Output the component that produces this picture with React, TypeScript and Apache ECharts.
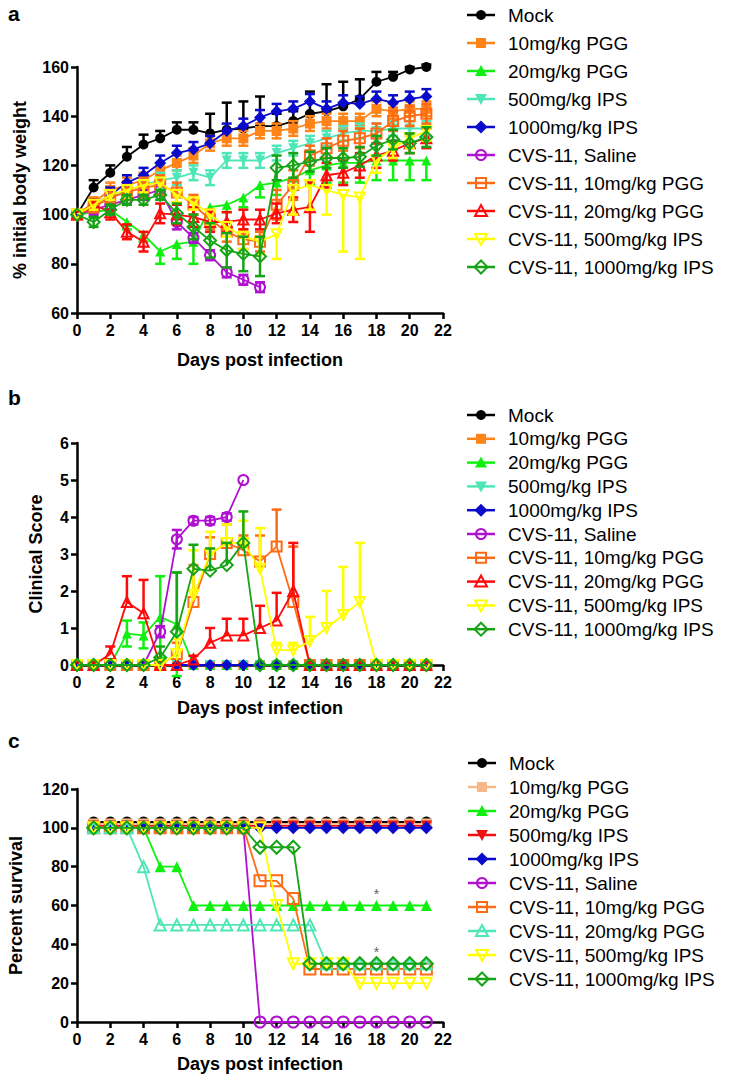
import React, { useEffect, useRef } from "react";
import * as echarts from "echarts";

const FONT = "'Liberation Sans', Arial, Helvetica, sans-serif";

// ---------- categories ----------
const daysAB = [0, 1, 2, 3, 4, 5, 6, 7, 8, 9, 10, 11, 12, 13, 14, 15, 16, 17, 18, 19, 20, 21];
const daysC = [1, 2, 3, 4, 5, 6, 7, 8, 9, 10, 11, 12, 13, 14, 15, 16, 17, 18, 19, 20, 21];

// ---------- panel a: % initial body weight ----------
const wMock = [100, 111, 117, 123.5, 128.5, 131, 134.5, 134.5, 133, 134.5, 135, 136, 136, 138, 141, 142, 144, 147, 154, 156, 159, 160];
const wMockErr = [0, 3, 3, 4, 4, 3, 3, 3, 8, 11, 11, 12, 5, 4, 9, 11, 10, 8, 4, 2, 1, 1];
const wPgg10 = [100, 105, 110, 112, 114, 118, 121, 124, 129, 131, 131, 134, 134, 135, 137, 138, 138, 138, 143, 142, 143, 143];
const wPgg10Err = [0, 2, 3, 3, 3, 3, 3, 3, 3, 3, 3, 3, 3, 3, 3, 3, 3, 3, 3, 3, 3, 3];
const wPgg20 = [100, 101, 102, 97, 92, 85, 88, 89, 103, 104, 107, 112, 113, 115, 118, 120, 121, 121, 122, 122, 122, 122];
const wPgg20Err = [0, 2, 2, 3, 3, 5, 6, 9, 4, 3, 4, 5, 5, 5, 6, 7, 8, 8, 8, 8, 8, 8];
const wIps500 = [100, 103, 107, 110, 112, 114, 115, 117, 115, 122, 122, 122, 125, 127, 129, 131, 133, 134, 134, 135, 135, 135];
const wIps500Err = [0, 2, 3, 3, 3, 3, 3, 3, 3, 3, 3, 3, 3, 3, 3, 3, 3, 3, 3, 3, 3, 3];
const wIps1000 = [100, 104, 108, 113, 116, 121, 125, 126.5, 129, 134, 136, 139.5, 142, 143, 146, 143, 145.5, 145, 147, 145.5, 147, 148];
const wIps1000Err = [0, 2, 3, 3, 3, 3, 3, 3, 3, 3, 3, 3, 3, 3, 3, 3, 3, 3, 3, 3, 3, 3];
const wSaline = [100, 102, 104, 106, 108, 110, 97, 90.5, 83.5, 76.5, 73.5, 70.5, null, null, null, null, null, null, null, null, null, null];
const wSalineErr = [0, 2, 2, 2, 2, 2, 3, 2, 2, 2, 2, 2, 0, 0, 0, 0, 0, 0, 0, 0, 0, 0];
const wCvsPgg10 = [100, 103, 107, 109, 111, 112, 109, 104, 98, 93, 90, 89, 104, 112, 124, 127, 130, 131, 133, 138, 140, 141];
const wCvsPgg10Err = [0, 2, 3, 3, 4, 4, 4, 4, 4, 4, 4, 4, 6, 6, 4, 4, 4, 4, 4, 4, 4, 4];
const wCvsPgg20 = [100, 104, 101, 93, 89, 100.5, 100, 99, 97, 97, 98, 98, 100.5, 102, 103, 116, 117, 120, 124, 126, 129, 131];
const wCvsPgg20Err = [0, 2, 3, 3, 4, 4, 4, 4, 4, 4, 4, 4, 4, 5, 10, 5, 5, 5, 5, 4, 4, 4];
const wCvsIps500 = [100, 104, 108, 110, 112, 113, 108, 105, 100, 95, 91, 89, 92, 110, 112, 110, 108, 107, 122, 127, 131, 134];
const wCvsIps500Err = [0, 2, 2, 3, 3, 3, 3, 3, 4, 4, 5, 5, 10, 10, 10, 10, 23, 25, 5, 4, 4, 4];
const wCvsIps1000 = [100, 97, 102, 106, 106, 108, 100.5, 95, 89.5, 85.5, 84, 83, 119, 120, 121.5, 123, 123, 123.5, 128, 130.5, 129, 131.5];
const wCvsIps1000Err = [0, 2, 2, 2, 2, 2, 4, 5, 7, 7, 7, 8, 5, 5, 4, 4, 4, 4, 4, 4, 4, 4];

// ---------- panel b: clinical score ----------
const cMock = [0, 0, 0, 0, 0, 0, 0, 0, 0, 0, 0, 0, 0, 0, 0, 0, 0, 0, 0, 0, 0, 0];
const cPgg10 = [0, 0, 0, 0, 0, 0, 0, 0, 0, 0, 0, 0, 0, 0, 0, 0, 0, 0, 0, 0, 0, 0];
const cPgg20 = [0, 0, 0, 0.85, 0.8, 1.3, 1.1, 0, 0, 0, 0, 0, 0, 0, 0, 0, 0, 0, 0, 0, 0, 0];
const cPgg20Err = [0, 0, 0, 0.35, 0.35, 1.1, 1.4, 0, 0, 0, 0, 0, 0, 0, 0, 0, 0, 0, 0, 0, 0, 0];
const cIps500 = [0, 0, 0, 0, 0, 0, 0, 0, 0, 0, 0, 0, 0, 0, 0, 0, 0, 0, 0, 0, 0, 0];
const cIps1000 = [0, 0, 0, 0, 0, 0, 0, 0, 0, 0, 0, 0, 0, 0, 0, 0, 0, 0, 0, 0, 0, 0];
const cSaline = [0, 0, 0, 0, 0, 0.9, 3.4, 3.9, 3.9, 4.0, 5.0, null, null, null, null, null, null, null, null, null, null, null];
const cSalineErr = [0, 0, 0, 0, 0, 0.15, 0.25, 0.1, 0.1, 0.1, 0, 0, 0, 0, 0, 0, 0, 0, 0, 0, 0, 0];
const cCvsPgg10 = [0, 0, 0, 0, 0, 0, 0.3, 1.7, 3.0, 3.3, 3.1, 2.8, 3.2, 1.7, 0, 0, 0, 0, 0, 0, 0, 0];
const cCvsPgg10Err = [0, 0, 0, 0, 0, 0, 0.3, 1.0, 0.45, 0.5, 0.4, 0.7, 1.0, 1.5, 0, 0, 0, 0, 0, 0, 0, 0];
const cCvsPgg20 = [0, 0, 0.3, 1.7, 1.4, 0, 0, 0.15, 0.6, 0.8, 0.8, 1.0, 1.2, 2.0, 0, 0, 0, 0, 0, 0, 0, 0];
const cCvsPgg20Err = [0, 0, 0.2, 0.7, 0.9, 0, 0, 0.1, 0.4, 0.45, 0.45, 0.6, 0.75, 1.3, 0, 0, 0, 0, 0, 0, 0, 0];
const cCvsIps500 = [0, 0, 0, 0, 0, 0, 0.3, 1.9, 3.0, 3.3, 3.3, 2.6, 0.4, 0.4, 0.65, 1.0, 1.35, 1.7, 0, 0, 0, 0];
const cCvsIps500Err = [0, 0, 0, 0, 0, 0, 0.4, 1.2, 0.6, 0.5, 0.6, 1.1, 0.2, 0.2, 0.65, 1.0, 1.3, 1.6, 0, 0, 0, 0];
const cCvsIps1000 = [0, 0, 0, 0, 0, 0.2, 0.9, 2.6, 2.55, 2.7, 3.3, 0, 0, 0, 0, 0, 0, 0, 0, 0, 0, 0];
const cCvsIps1000Err = [0, 0, 0, 0, 0, 0.3, 1.6, 0.65, 0.6, 0.6, 0.85, 0, 0, 0, 0, 0, 0, 0, 0, 0, 0, 0];

// ---------- panel c: percent survival ----------
const sMock = [103, 103, 103, 103, 103, 103, 103, 103, 103, 103, 103, 103, 103, 103, 103, 103, 103, 103, 103, 103, 103];
const sPgg10 = [102, 102, 102, 102, 102, 102, 102, 102, 102, 102, 102, 102, 102, 102, 102, 102, 102, 102, 102, 102, 102];
const sPgg20 = [100, 100, 100, 100, 80, 80, 60, 60, 60, 60, 60, 60, 60, 60, 60, 60, 60, 60, 60, 60, 60];
const sIps500 = [101, 101, 101, 101, 101, 101, 101, 101, 101, 101, 101, 101, 101, 101, 101, 101, 101, 101, 101, 101, 101];
const sIps1000 = [100, 100, 100, 100, 100, 100, 100, 100, 100, 100, 100, 100, 100, 100, 100, 100, 100, 100, 100, 100, 100];
const sSaline = [100, 100, 100, 100, 100, 100, 100, 100, 100, 100, 0, 0, 0, 0, 0, 0, 0, 0, 0, 0, 0];
const sCvsPgg10 = [100, 100, 100, 100, 100, 100, 100, 100, 100, 100, 72.7, 72.7, 63.6, 27.3, 27.3, 27.3, 27.3, 27.3, 27.3, 27.3, 27.3];
const sCvsPgg20 = [100, 100, 100, 80, 50, 50, 50, 50, 50, 50, 50, 50, 50, 50, 30, 30, 30, 30, 30, 30, 30];
const sCvsIps500 = [100, 100, 100, 100, 100, 100, 100, 100, 100, 100, 100, 60, 30, 30, 30, 30, 20, 20, 20, 20, 20];
const sCvsIps1000 = [100, 100, 100, 100, 100, 100, 100, 100, 100, 100, 90, 90, 90, 30, 30, 30, 30, 30, 30, 30, 30];
const starDays = [18, 18];
const starValues = [66, 36];

// ---------- styles ----------
const C = {
  black: "#000000",
  orange: "#FF8418",
  lime: "#10F010",
  aqua: "#4EE6B6",
  blue: "#0A0ACC",
  purple: "#B010D0",
  orangeRed: "#FF6A14",
  red: "#FF0A0A",
  yellow: "#FFFF00",
  green: "#16A416",
  tan: "#F5B888",
};

type Spec = {
  name: string;
  vals: (number | null)[];
  err?: number[];
  color: string;
  sym: "circle" | "square" | "up" | "down" | "diamond";
  open: boolean;
  dir?: "up" | "down" | "both";
};

const specsA: Spec[] = [
  { name: "Mock", vals: wMock, err: wMockErr, color: C.black, sym: "circle", open: false, dir: "up" },
  { name: "10mg/kg PGG", vals: wPgg10, err: wPgg10Err, color: C.orange, sym: "square", open: false, dir: "both" },
  { name: "20mg/kg PGG", vals: wPgg20, err: wPgg20Err, color: C.lime, sym: "up", open: false, dir: "down" },
  { name: "500mg/kg IPS", vals: wIps500, err: wIps500Err, color: C.aqua, sym: "down", open: false, dir: "both" },
  { name: "1000mg/kg IPS", vals: wIps1000, err: wIps1000Err, color: C.blue, sym: "diamond", open: false, dir: "up" },
  { name: "CVS-11, Saline", vals: wSaline, err: wSalineErr, color: C.purple, sym: "circle", open: true, dir: "both" },
  { name: "CVS-11, 10mg/kg PGG", vals: wCvsPgg10, err: wCvsPgg10Err, color: C.orangeRed, sym: "square", open: true, dir: "both" },
  { name: "CVS-11, 20mg/kg PGG", vals: wCvsPgg20, err: wCvsPgg20Err, color: C.red, sym: "up", open: true, dir: "both" },
  { name: "CVS-11, 500mg/kg IPS", vals: wCvsIps500, err: wCvsIps500Err, color: C.yellow, sym: "down", open: true, dir: "down" },
  { name: "CVS-11, 1000mg/kg IPS", vals: wCvsIps1000, err: wCvsIps1000Err, color: C.green, sym: "diamond", open: true, dir: "both" },
];

const specsB: Spec[] = [
  { name: "Mock", vals: cMock, color: C.black, sym: "circle", open: false },
  { name: "10mg/kg PGG", vals: cPgg10, color: C.orange, sym: "square", open: false },
  { name: "20mg/kg PGG", vals: cPgg20, err: cPgg20Err, color: C.lime, sym: "up", open: false, dir: "both" },
  { name: "500mg/kg IPS", vals: cIps500, color: C.aqua, sym: "down", open: false },
  { name: "1000mg/kg IPS", vals: cIps1000, color: C.blue, sym: "diamond", open: false },
  { name: "CVS-11, Saline", vals: cSaline, err: cSalineErr, color: C.purple, sym: "circle", open: true, dir: "both" },
  { name: "CVS-11, 10mg/kg PGG", vals: cCvsPgg10, err: cCvsPgg10Err, color: C.orangeRed, sym: "square", open: true, dir: "up" },
  { name: "CVS-11, 20mg/kg PGG", vals: cCvsPgg20, err: cCvsPgg20Err, color: C.red, sym: "up", open: true, dir: "up" },
  { name: "CVS-11, 500mg/kg IPS", vals: cCvsIps500, err: cCvsIps500Err, color: C.yellow, sym: "down", open: true, dir: "up" },
  { name: "CVS-11, 1000mg/kg IPS", vals: cCvsIps1000, err: cCvsIps1000Err, color: C.green, sym: "diamond", open: true, dir: "up" },
];

const specsC: Spec[] = [
  { name: "Mock", vals: sMock, color: C.black, sym: "circle", open: false },
  { name: "10mg/kg PGG", vals: sPgg10, color: C.tan, sym: "square", open: false },
  { name: "20mg/kg PGG", vals: sPgg20, color: C.lime, sym: "up", open: false },
  { name: "500mg/kg IPS", vals: sIps500, color: "#EE1111", sym: "down", open: false },
  { name: "1000mg/kg IPS", vals: sIps1000, color: C.blue, sym: "diamond", open: false },
  { name: "CVS-11, Saline", vals: sSaline, color: C.purple, sym: "circle", open: true },
  { name: "CVS-11, 10mg/kg PGG", vals: sCvsPgg10, color: C.orangeRed, sym: "square", open: true },
  { name: "CVS-11, 20mg/kg PGG", vals: sCvsPgg20, color: C.aqua, sym: "up", open: true },
  { name: "CVS-11, 500mg/kg IPS", vals: sCvsIps500, color: C.yellow, sym: "down", open: true },
  { name: "CVS-11, 1000mg/kg IPS", vals: sCvsIps1000, color: C.green, sym: "diamond", open: true },
];

function ecSym(s: Spec["sym"]) {
  if (s === "circle") return "circle";
  if (s === "square") return "rect";
  if (s === "diamond") return "diamond";
  return "triangle";
}

function buildSeries(specs: Spec[], days: number[], gi: number, symSize: number) {
  const out: any[] = [];
  specs.forEach((s, i) => {
    const z = 2 + i;
    if (s.err) {
      const d: number[][] = [];
      days.forEach((day, k) => {
        const v = s.vals[k];
        const e = s.err![k];
        if (v != null && e) d.push([day, v, e]);
      });
      const dir = s.dir || "both";
      out.push({
        type: "custom",
        name: s.name + " err",
        xAxisIndex: gi,
        yAxisIndex: gi,
        z,
        silent: true,
        clip: false,
        data: d,
        encode: { x: 0, y: 1 },
        renderItem: (_p: any, api: any) => {
          const x = api.value(0);
          const y = api.value(1);
          const e = api.value(2);
          const up = dir !== "down";
          const dn = dir !== "up";
          const pt = api.coord([x, up ? y + e : y]);
          const pb = api.coord([x, dn ? y - e : y]);
          const hw = 5;
          const st = { stroke: s.color, lineWidth: 2.5 };
          const ch: any[] = [
            { type: "line", shape: { x1: pt[0], y1: pt[1], x2: pb[0], y2: pb[1] }, style: st },
          ];
          if (up) ch.push({ type: "line", shape: { x1: pt[0] - hw, y1: pt[1], x2: pt[0] + hw, y2: pt[1] }, style: st });
          if (dn) ch.push({ type: "line", shape: { x1: pb[0] - hw, y1: pb[1], x2: pb[0] + hw, y2: pb[1] }, style: st });
          return { type: "group", children: ch };
        },
      });
    }
    out.push({
      type: "line",
      name: s.name,
      xAxisIndex: gi,
      yAxisIndex: gi,
      z,
      silent: true,
      data: days.map((d, k) => [d, s.vals[k]]),
      symbol: ecSym(s.sym),
      symbolRotate: s.sym === "down" ? 180 : 0,
      symbolSize: s.sym === "diamond" ? symSize + 2 : symSize,
      showSymbol: true,
      showAllSymbol: true,
      connectNulls: false,
      lineStyle: { color: s.color, width: 1.8 },
      itemStyle: s.open
        ? { color: "rgba(255,255,255,0)", borderColor: s.color, borderWidth: 2 }
        : { color: s.color, borderColor: s.color, borderWidth: 0 },
      emphasis: { disabled: true },
    });
  });
  return out;
}

function legend(specs: Spec[], y0: number, gap: number, x0: number) {
  const els: any[] = [];
  specs.forEach((s, i) => {
    const y = y0 + i * gap;
    const cx = x0 + 14;
    els.push({ type: "line", shape: { x1: x0, y1: y, x2: x0 + 28, y2: y }, style: { stroke: s.color, lineWidth: 2.5 }, z: 10 });
    const st = s.open
      ? { fill: "rgba(255,255,255,0)", stroke: s.color, lineWidth: 2 }
      : { fill: s.color, stroke: s.color, lineWidth: 0 };
    const r = 5;
    if (s.sym === "circle") els.push({ type: "circle", shape: { cx, cy: y, r }, style: st, z: 11 });
    else if (s.sym === "square") els.push({ type: "rect", shape: { x: cx - r, y: y - r, width: 2 * r, height: 2 * r }, style: st, z: 11 });
    else if (s.sym === "up") els.push({ type: "polygon", shape: { points: [[cx, y - 6], [cx + 6, y + 5], [cx - 6, y + 5]] }, style: st, z: 11 });
    else if (s.sym === "down") els.push({ type: "polygon", shape: { points: [[cx, y + 6], [cx + 6, y - 5], [cx - 6, y - 5]] }, style: st, z: 11 });
    else els.push({ type: "polygon", shape: { points: [[cx, y - 6.5], [cx + 6.5, y], [cx, y + 6.5], [cx - 6.5, y]] }, style: st, z: 11 });
    els.push({
      type: "text",
      x: x0 + 41,
      y,
      style: { text: s.name, fill: "#000", font: `19px ${FONT}`, textVerticalAlign: "middle" },
      z: 11,
    });
  });
  return els;
}

const axisLine = { show: true, onZero: false, lineStyle: { color: "#000", width: 2.5 } };
const axisTick = { show: true, length: 6, lineStyle: { color: "#000", width: 2.5 } };
const axisLabel = { color: "#000", fontSize: 16, fontWeight: "bold", fontFamily: FONT };
const nameStyle = { color: "#000", fontSize: 18, fontWeight: "bold", fontFamily: FONT };

function xAx(gi: number, nameGap: number) {
  return {
    type: "value",
    gridIndex: gi,
    min: 0,
    max: 22,
    interval: 2,
    axisLine,
    axisTick,
    axisLabel: { ...axisLabel, margin: 9 },
    splitLine: { show: false },
    name: "Days post infection",
    nameLocation: "middle",
    nameGap,
    nameTextStyle: nameStyle,
  };
}

function yAx(gi: number, min: number, max: number, interval: number, name: string, nameGap: number) {
  return {
    type: "value",
    gridIndex: gi,
    min,
    max,
    interval,
    axisLine,
    axisTick,
    axisLabel: { ...axisLabel, margin: 8 },
    splitLine: { show: false },
    name,
    nameLocation: "middle",
    nameGap,
    nameTextStyle: nameStyle,
  };
}

const option: any = {
  animation: false,
  backgroundColor: "#fff",
  grid: [
    { left: 77, top: 67, width: 366, height: 246 },
    { left: 77, top: 443, width: 366, height: 222 },
    { left: 77, top: 789, width: 366, height: 233 },
  ],
  xAxis: [xAx(0, 38), xAx(1, 34), xAx(2, 33)],
  yAxis: [
    yAx(0, 60, 160, 20, "% initial body weight", 48),
    yAx(1, 0, 6, 1, "Clinical Score", 32),
    yAx(2, 0, 120, 20, "Percent survival", 52),
  ],
  series: [
    ...buildSeries(specsA, daysAB, 0, 10),
    ...buildSeries(specsB, daysAB, 1, 10),
    ...buildSeries(specsC, daysC, 2, 11),
    {
      type: "scatter",
      xAxisIndex: 2,
      yAxisIndex: 2,
      z: 30,
      silent: true,
      symbolSize: 0,
      data: starDays.map((d, i) => [d, starValues[i]]),
      label: { show: true, formatter: "*", color: "#333", fontSize: 14, fontFamily: FONT, position: "inside" },
    },
  ],
  graphic: [
    { type: "text", x: 8, y: 13, style: { text: "a", font: `bold 21px ${FONT}`, fill: "#000", textVerticalAlign: "middle" } },
    { type: "text", x: 8, y: 397, style: { text: "b", font: `bold 21px ${FONT}`, fill: "#000", textVerticalAlign: "middle" } },
    { type: "text", x: 8, y: 740, style: { text: "c", font: `bold 21px ${FONT}`, fill: "#000", textVerticalAlign: "middle" } },
    ...legend(specsA, 15, 28, 467),
    ...legend(specsB, 415, 23.8, 467),
    ...legend(specsC, 763, 24, 468),
  ],
};

export default function App() {
  const ref = useRef<HTMLDivElement>(null);
  useEffect(() => {
    const chart = echarts.init(ref.current!, null, { renderer: "svg" });
    chart.setOption(option);
    return () => chart.dispose();
  }, []);
  return (
    <div
      ref={ref}
      style={{ position: "fixed", left: 0, top: 0, width: 737, height: 1081, background: "#fff" }}
    />
  );
}
